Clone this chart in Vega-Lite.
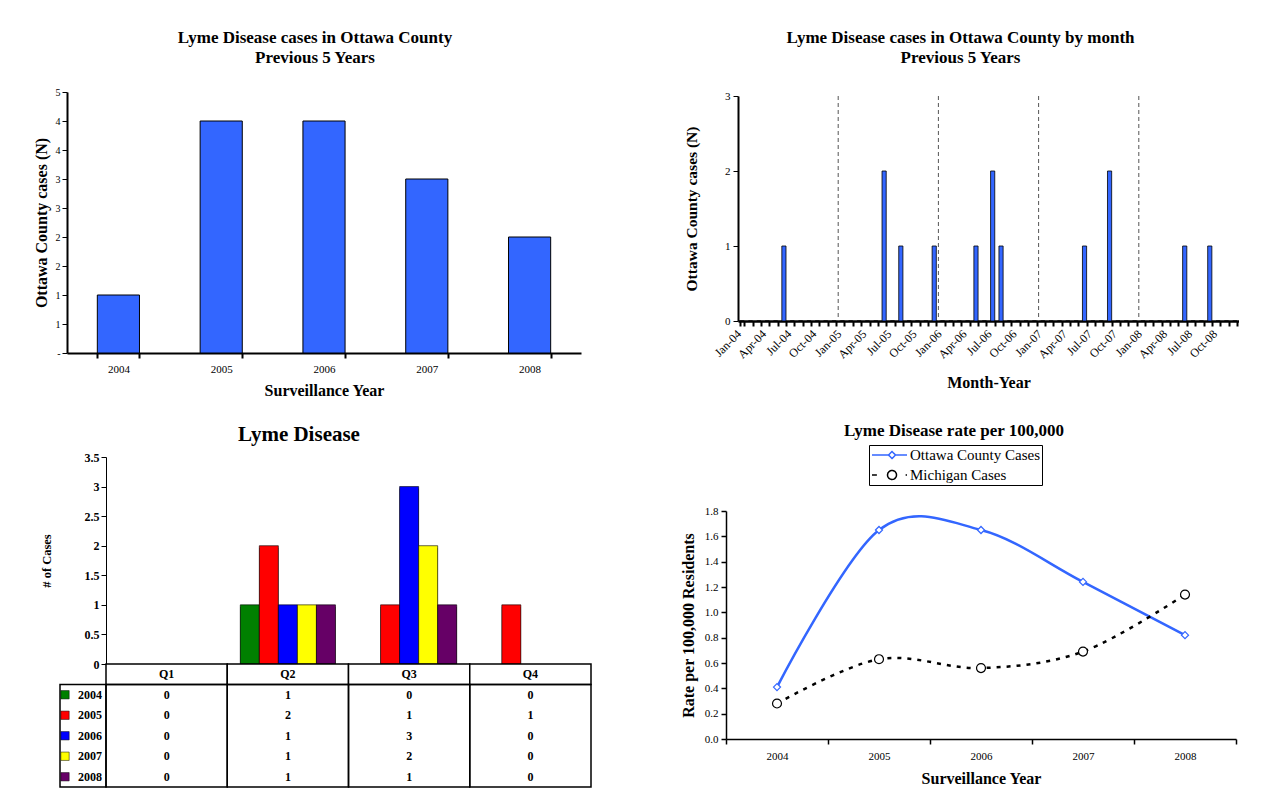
{
  "$schema": "https://vega.github.io/schema/vega-lite/v6.json",
  "background": "white",
  "padding": {"left": 33, "top": 29, "right": 0, "bottom": 0},
  "config": {
    "font": "Liberation Serif",
    "view": {"stroke": null},
    "axis": {"domainColor": "black", "tickColor": "black", "labelColor": "black", "titleColor": "black", "grid": false, "labelFont": "Liberation Serif", "titleFont": "Liberation Serif", "titleFontWeight": "bold", "titleFontSize": 16, "labelFontSize": 11, "tickSize": 5, "labelOverlap": false},
    "title": {"font": "Liberation Serif", "fontWeight": "bold", "color": "black", "fontSize": 17, "anchor": "middle", "frame": "group"}
  },
  "datasets": {
    "annual": [
      {"year": "2004", "cases": 1}, {"year": "2005", "cases": 4}, {"year": "2006", "cases": 4}, {"year": "2007", "cases": 3}, {"year": "2008", "cases": 2}
    ],
    "monthly": [
      {"month": "Jan-04", "cases": 0}, {"month": "Feb-04", "cases": 0}, {"month": "Mar-04", "cases": 0}, {"month": "Apr-04", "cases": 0}, {"month": "May-04", "cases": 0}, {"month": "Jun-04", "cases": 1},
      {"month": "Jul-04", "cases": 0}, {"month": "Aug-04", "cases": 0}, {"month": "Sep-04", "cases": 0}, {"month": "Oct-04", "cases": 0}, {"month": "Nov-04", "cases": 0}, {"month": "Dec-04", "cases": 0},
      {"month": "Jan-05", "cases": 0}, {"month": "Feb-05", "cases": 0}, {"month": "Mar-05", "cases": 0}, {"month": "Apr-05", "cases": 0}, {"month": "May-05", "cases": 0}, {"month": "Jun-05", "cases": 2},
      {"month": "Jul-05", "cases": 0}, {"month": "Aug-05", "cases": 1}, {"month": "Sep-05", "cases": 0}, {"month": "Oct-05", "cases": 0}, {"month": "Nov-05", "cases": 0}, {"month": "Dec-05", "cases": 1},
      {"month": "Jan-06", "cases": 0}, {"month": "Feb-06", "cases": 0}, {"month": "Mar-06", "cases": 0}, {"month": "Apr-06", "cases": 0}, {"month": "May-06", "cases": 1}, {"month": "Jun-06", "cases": 0},
      {"month": "Jul-06", "cases": 2}, {"month": "Aug-06", "cases": 1}, {"month": "Sep-06", "cases": 0}, {"month": "Oct-06", "cases": 0}, {"month": "Nov-06", "cases": 0}, {"month": "Dec-06", "cases": 0},
      {"month": "Jan-07", "cases": 0}, {"month": "Feb-07", "cases": 0}, {"month": "Mar-07", "cases": 0}, {"month": "Apr-07", "cases": 0}, {"month": "May-07", "cases": 0}, {"month": "Jun-07", "cases": 1},
      {"month": "Jul-07", "cases": 0}, {"month": "Aug-07", "cases": 0}, {"month": "Sep-07", "cases": 2}, {"month": "Oct-07", "cases": 0}, {"month": "Nov-07", "cases": 0}, {"month": "Dec-07", "cases": 0},
      {"month": "Jan-08", "cases": 0}, {"month": "Feb-08", "cases": 0}, {"month": "Mar-08", "cases": 0}, {"month": "Apr-08", "cases": 0}, {"month": "May-08", "cases": 0}, {"month": "Jun-08", "cases": 1},
      {"month": "Jul-08", "cases": 0}, {"month": "Aug-08", "cases": 0}, {"month": "Sep-08", "cases": 1}, {"month": "Oct-08", "cases": 0}, {"month": "Nov-08", "cases": 0}, {"month": "Dec-08", "cases": 0}
    ],
    "yearStarts": [{"month": "Jan-05"}, {"month": "Jan-06"}, {"month": "Jan-07"}, {"month": "Jan-08"}],
    "quarterly": [
      {"quarter": "Q1", "year": "2004", "cases": 0}, {"quarter": "Q2", "year": "2004", "cases": 1}, {"quarter": "Q3", "year": "2004", "cases": 0}, {"quarter": "Q4", "year": "2004", "cases": 0},
      {"quarter": "Q1", "year": "2005", "cases": 0}, {"quarter": "Q2", "year": "2005", "cases": 2}, {"quarter": "Q3", "year": "2005", "cases": 1}, {"quarter": "Q4", "year": "2005", "cases": 1},
      {"quarter": "Q1", "year": "2006", "cases": 0}, {"quarter": "Q2", "year": "2006", "cases": 1}, {"quarter": "Q3", "year": "2006", "cases": 3}, {"quarter": "Q4", "year": "2006", "cases": 0},
      {"quarter": "Q1", "year": "2007", "cases": 0}, {"quarter": "Q2", "year": "2007", "cases": 1}, {"quarter": "Q3", "year": "2007", "cases": 2}, {"quarter": "Q4", "year": "2007", "cases": 0},
      {"quarter": "Q1", "year": "2008", "cases": 0}, {"quarter": "Q2", "year": "2008", "cases": 1}, {"quarter": "Q3", "year": "2008", "cases": 1}, {"quarter": "Q4", "year": "2008", "cases": 0}
    ],
    "quarters": [{"quarter": "Q1"}, {"quarter": "Q2"}, {"quarter": "Q3"}, {"quarter": "Q4"}],
    "years": [{"year": "2004"}, {"year": "2005"}, {"year": "2006"}, {"year": "2007"}, {"year": "2008"}],
    "rates": [
      {"year": "2004", "series": "Ottawa County Cases", "rate": 0.41},
      {"year": "2005", "series": "Ottawa County Cases", "rate": 1.65},
      {"year": "2006", "series": "Ottawa County Cases", "rate": 1.65},
      {"year": "2007", "series": "Ottawa County Cases", "rate": 1.24},
      {"year": "2008", "series": "Ottawa County Cases", "rate": 0.82},
      {"year": "2004", "series": "Michigan Cases", "rate": 0.28},
      {"year": "2005", "series": "Michigan Cases", "rate": 0.63},
      {"year": "2006", "series": "Michigan Cases", "rate": 0.56},
      {"year": "2007", "series": "Michigan Cases", "rate": 0.69},
      {"year": "2008", "series": "Michigan Cases", "rate": 1.14}
    ]
  },
  "columns": 2,
  "spacing": {"row": 23, "column": 88},
  "resolve": {"scale": {"color": "independent", "strokeDash": "independent"}, "legend": {"color": "independent", "strokeDash": "independent"}},
  "concat": [
    {
      "width": 514,
      "height": 261,
      "title": {"text": ["Lyme Disease cases in Ottawa County", "Previous 5 Years"], "offset": 20, "dx": -9, "lineHeight": 20},
      "data": {"name": "annual"},
      "mark": {"type": "bar", "color": "#3366FF", "stroke": "black", "strokeWidth": 1},
      "encoding": {
        "x": {"field": "year", "type": "ordinal", "scale": {"paddingInner": 0.59, "paddingOuter": 0.295},
              "axis": {"title": "Surveillance Year", "labelAngle": 0, "tickBand": "extent", "domainWidth": 2, "tickWidth": 2, "labelPadding": 5, "titlePadding": 8}},
        "y": {"field": "cases", "type": "quantitative", "scale": {"domain": [0, 4.5]},
              "axis": {"title": "Ottawa County cases (N)", "values": [0, 0.5, 1, 1.5, 2, 2.5, 3, 3.5, 4, 4.5], "labelExpr": "datum.value == 0 ? '-' : '' + round(datum.value)", "labelFontSize": 10, "domainWidth": 2, "tickWidth": 1, "labelPadding": 2, "titlePadding": 6}}
      }
    },
    {
      "width": 513,
      "height": 229,
      "title": {"text": ["Lyme Disease cases in Ottawa County by month", "Previous 5 Years"], "offset": 23, "dx": -22, "lineHeight": 20},
      "layer": [
        {
          "data": {"name": "monthly"},
          "mark": {"type": "bar", "color": "#3366FF", "stroke": "black", "strokeWidth": 0.8},
          "encoding": {
            "x": {"field": "month", "type": "ordinal", "sort": null,
                  "scale": {"range": [12, 513], "paddingInner": 0.5, "paddingOuter": 0.25, "domain": ["Jan-04","Feb-04","Mar-04","Apr-04","May-04","Jun-04","Jul-04","Aug-04","Sep-04","Oct-04","Nov-04","Dec-04","Jan-05","Feb-05","Mar-05","Apr-05","May-05","Jun-05","Jul-05","Aug-05","Sep-05","Oct-05","Nov-05","Dec-05","Jan-06","Feb-06","Mar-06","Apr-06","May-06","Jun-06","Jul-06","Aug-06","Sep-06","Oct-06","Nov-06","Dec-06","Jan-07","Feb-07","Mar-07","Apr-07","May-07","Jun-07","Jul-07","Aug-07","Sep-07","Oct-07","Nov-07","Dec-07","Jan-08","Feb-08","Mar-08","Apr-08","May-08","Jun-08","Jul-08","Aug-08","Sep-08","Oct-08","Nov-08","Dec-08"]},
                  "axis": {"title": "Month-Year", "labelAngle": -45, "labelFontSize": 12, "tickBand": "extent", "domainWidth": 2.5, "tickWidth": 2, "tickSize": 5, "labelPadding": 2, "labelOffset": -7, "titlePadding": 14,
                           "labelExpr": "indexof(['Jan','Apr','Jul','Oct'], slice(datum.label, 0, 3)) >= 0 ? datum.label : ''"}},
            "y": {"field": "cases", "type": "quantitative", "scale": {"domain": [0, 3], "range": [229, 4]},
                  "axis": {"title": "Ottawa County cases (N)", "titleFontSize": 15.5, "offset": -12, "values": [0, 1, 2, 3], "format": "d", "domainWidth": 2, "labelPadding": 3, "titlePadding": 25}}
          }
        },
        {
          "data": {"name": "yearStarts"},
          "mark": {"type": "rule", "color": "#555555", "strokeDash": [4, 3], "strokeWidth": 1},
          "encoding": {
            "x": {"field": "month", "type": "ordinal", "bandPosition": -0.5},
            "y": {"datum": 3, "type": "quantitative"},
            "y2": {"datum": 0}
          }
        }
      ]
    },
    {
      "width": 524,
      "height": 330,
      "title": {"text": "Lyme Disease", "fontSize": 21, "dx": -30, "offset": 6},
      "resolve": {"scale": {"x": "independent", "y": "independent", "color": "independent"}},
      "layer": [
        {
          "data": {"name": "quarterly"},
          "transform": [{"filter": "datum.cases > 0"}],
          "mark": {"type": "bar", "color": "#222222", "xOffset": 2.5, "yOffset": 2},
          "encoding": {
            "x": {"field": "quarter", "type": "nominal", "scale": {"domain": ["Q1", "Q2", "Q3", "Q4"], "range": [39, 524], "paddingInner": 0.215, "paddingOuter": 0.1075}, "axis": null},
            "xOffset": {"field": "year", "type": "nominal", "scale": {"domain": ["2004", "2005", "2006", "2007", "2008"], "paddingInner": 0, "paddingOuter": 0}},
            "y": {"field": "cases", "type": "quantitative", "scale": {"domain": [0, 3.5], "range": [207, 0]}, "axis": null}
          }
        },
        {
          "data": {"name": "quarterly"},
          "transform": [{"filter": "datum.cases > 0"}],
          "mark": {"type": "bar", "stroke": "black", "strokeWidth": 0.6},
          "encoding": {
            "x": {"field": "quarter", "type": "nominal", "scale": {"domain": ["Q1", "Q2", "Q3", "Q4"], "range": [39, 524], "paddingInner": 0.215, "paddingOuter": 0.1075}, "axis": null},
            "xOffset": {"field": "year", "type": "nominal", "scale": {"domain": ["2004", "2005", "2006", "2007", "2008"], "paddingInner": 0, "paddingOuter": 0}},
            "y": {"field": "cases", "type": "quantitative", "scale": {"domain": [0, 3.5], "range": [207, 0]},
                  "axis": {"title": "# of Cases", "titleFontSize": 12.5, "offset": -39, "values": [0, 0.5, 1, 1.5, 2, 2.5, 3, 3.5], "format": "~g", "labelFontSize": 12, "labelFontWeight": "bold", "labelPadding": 2, "titlePadding": 31}},
            "color": {"field": "year", "type": "nominal", "scale": {"domain": ["2004", "2005", "2006", "2007", "2008"], "range": ["#008000", "#FF0000", "#0000FF", "#FFFF00", "#660066"]}, "legend": null}
          }
        },
        {
          "data": {"name": "quarters"},
          "mark": {"type": "rect", "fill": "white", "stroke": "black", "strokeWidth": 1.5},
          "encoding": {
            "x": {"field": "quarter", "type": "nominal", "scale": {"domain": ["Q1", "Q2", "Q3", "Q4"], "range": [39, 524], "paddingInner": 0, "paddingOuter": 0}, "axis": null},
            "y": {"datum": "hdr", "type": "nominal", "scale": {"domain": ["hdr", "2004", "2005", "2006", "2007", "2008"], "range": [207, 330], "paddingInner": 0, "paddingOuter": 0}, "axis": null}
          }
        },
        {
          "data": {"name": "quarters"},
          "mark": {"type": "text", "fontWeight": "bold", "fontSize": 12, "color": "black"},
          "encoding": {
            "x": {"field": "quarter", "type": "nominal", "scale": {"domain": ["Q1", "Q2", "Q3", "Q4"], "range": [39, 524], "paddingInner": 0, "paddingOuter": 0}, "axis": null},
            "y": {"datum": "hdr", "type": "nominal", "scale": {"domain": ["hdr", "2004", "2005", "2006", "2007", "2008"], "range": [207, 330], "paddingInner": 0, "paddingOuter": 0}, "axis": null},
            "text": {"field": "quarter"}
          }
        },
        {
          "data": {"name": "quarters"},
          "mark": {"type": "rect", "fill": "white", "fillOpacity": 0, "stroke": "black", "strokeWidth": 1.5},
          "encoding": {
            "x": {"field": "quarter", "type": "nominal", "scale": {"domain": ["Q1", "Q2", "Q3", "Q4"], "range": [39, 524], "paddingInner": 0, "paddingOuter": 0}, "axis": null},
            "y": {"datum": "2004", "type": "nominal", "bandPosition": 0, "scale": {"domain": ["hdr", "2004", "2005", "2006", "2007", "2008"], "range": [207, 330], "paddingInner": 0, "paddingOuter": 0}, "axis": null},
            "y2": {"datum": "2008", "bandPosition": 1}
          }
        },
        {
          "data": {"name": "quarterly"},
          "mark": {"type": "text", "fontWeight": "bold", "fontSize": 12, "color": "black"},
          "encoding": {
            "x": {"field": "quarter", "type": "nominal", "scale": {"domain": ["Q1", "Q2", "Q3", "Q4"], "range": [39, 524], "paddingInner": 0, "paddingOuter": 0}, "axis": null},
            "y": {"field": "year", "type": "nominal", "scale": {"domain": ["hdr", "2004", "2005", "2006", "2007", "2008"], "range": [207, 330], "paddingInner": 0, "paddingOuter": 0}, "axis": null},
            "text": {"field": "cases"}
          }
        },
        {
          "data": {"values": [{"label": "Year"}]},
          "mark": {"type": "rect", "fillOpacity": 0, "fill": "white", "stroke": "black", "strokeWidth": 1.5},
          "encoding": {
            "x": {"datum": "legend", "type": "nominal", "scale": {"domain": ["legend"], "range": [-7, 39], "paddingInner": 0, "paddingOuter": 0}, "axis": null},
            "y": {"datum": "2004", "type": "nominal", "bandPosition": 0, "scale": {"domain": ["hdr", "2004", "2005", "2006", "2007", "2008"], "range": [207, 330], "paddingInner": 0, "paddingOuter": 0}, "axis": null},
            "y2": {"datum": "2008", "bandPosition": 1}
          }
        },
        {
          "data": {"name": "years"},
          "mark": {"type": "point", "shape": "square", "filled": true, "size": 70, "stroke": "black", "strokeWidth": 0.5, "opacity": 1, "xOffset": -18},
          "encoding": {
            "x": {"datum": "legend", "type": "nominal", "scale": {"domain": ["legend"], "range": [-7, 39], "paddingInner": 0, "paddingOuter": 0}, "axis": null},
            "y": {"field": "year", "type": "nominal", "scale": {"domain": ["hdr", "2004", "2005", "2006", "2007", "2008"], "range": [207, 330], "paddingInner": 0, "paddingOuter": 0}, "axis": null},
            "color": {"field": "year", "type": "nominal", "scale": {"domain": ["2004", "2005", "2006", "2007", "2008"], "range": ["#008000", "#FF0000", "#0000FF", "#FFFF00", "#660066"]}, "legend": null}
          }
        },
        {
          "data": {"name": "years"},
          "mark": {"type": "text", "fontWeight": "bold", "fontSize": 12, "color": "black", "align": "right", "dx": 19},
          "encoding": {
            "x": {"datum": "legend", "type": "nominal", "scale": {"domain": ["legend"], "range": [-7, 39], "paddingInner": 0, "paddingOuter": 0}, "axis": null},
            "y": {"field": "year", "type": "nominal", "scale": {"domain": ["hdr", "2004", "2005", "2006", "2007", "2008"], "range": [207, 330], "paddingInner": 0, "paddingOuter": 0}, "axis": null},
            "text": {"field": "year"}
          }
        }
      ]
    },
    {
      "width": 510,
      "height": 282,
      "title": {"text": "Lyme Disease rate per 100,000", "fontSize": 17, "dx": -27, "offset": 5},
      "data": {"name": "rates"},
      "encoding": {
        "x": {"field": "year", "type": "ordinal", "scale": {"paddingInner": 0, "paddingOuter": 0},
              "axis": {"title": "Surveillance Year", "labelAngle": 0, "tickBand": "extent", "domainWidth": 1.5, "tickWidth": 1.5, "labelPadding": 6, "titlePadding": 9}},
        "y": {"field": "rate", "type": "quantitative", "scale": {"domain": [0, 1.8], "range": [282, 54]},
              "axis": {"title": "Rate per 100,000 Residents", "values": [0, 0.2, 0.4, 0.6, 0.8, 1, 1.2, 1.4, 1.6, 1.8], "format": ".1f", "domainWidth": 1.5, "tickWidth": 1.5, "labelPadding": 3, "titlePadding": 8}}
      },
      "layer": [
        {
          "transform": [{"filter": "datum.series === 'Ottawa County Cases'"}],
          "mark": {"type": "line", "interpolate": "cardinal", "strokeWidth": 2.5},
          "encoding": {
            "color": {"field": "series", "type": "nominal",
                      "scale": {"domain": ["Ottawa County Cases", "Michigan Cases"], "range": ["#3366FF", "black"]},
                      "legend": {"title": null, "orient": "none", "legendX": 143, "legendY": -12, "strokeColor": "black", "fillColor": "white", "padding": 2, "symbolSize": 196, "labelOffset": 23, "labelFontSize": 15, "labelFont": "Liberation Serif", "labelColor": "black", "rowPadding": 4, "symbolStrokeWidth": 1.5, "symbolDash": [1, 0],
                                 "encode": {"symbols": {"update": {"shape": {"signal": "datum.value === 'Ottawa County Cases' ? 'M-1,0L1.36,0M2.36,0L4,0M1.86,-0.5L2.36,0L1.86,0.5L1.36,0Z' : 'M-1,0L-0.3,0M3.8,0L4,0M2.5,0A0.64,0.64,0,1,1,1.22,0A0.64,0.64,0,1,1,2.5,0Z'"}, "fill": {"value": "white"}, "strokeDash": {"value": [1, 0]}, "opacity": {"value": 1}}}}}}
          }
        },
        {
          "transform": [{"filter": "datum.series === 'Michigan Cases'"}],
          "mark": {"type": "line", "interpolate": "cardinal", "strokeWidth": 2.5, "strokeDash": [4, 6]},
          "encoding": {
            "color": {"field": "series", "type": "nominal"}
          }
        },
        {
          "transform": [{"filter": "datum.series === 'Ottawa County Cases'"}],
          "mark": {"type": "point", "shape": "diamond", "size": 50, "filled": false, "fill": "white", "stroke": "#3366FF", "strokeWidth": 1.2, "opacity": 1}
        },
        {
          "transform": [{"filter": "datum.series === 'Michigan Cases'"}],
          "mark": {"type": "point", "shape": "circle", "size": 80, "filled": false, "fill": "white", "stroke": "black", "strokeWidth": 1.2, "opacity": 1}
        }
      ]
    }
  ]
}
